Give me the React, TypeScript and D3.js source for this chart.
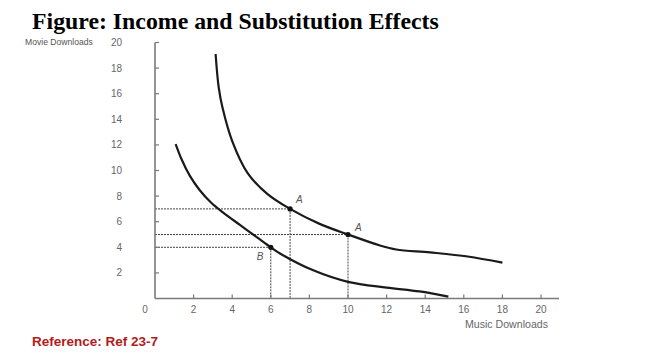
import React from "react";
import * as d3 from "d3";

const title = "Figure: Income and Substitution Effects";
const yAxisLabel = "Movie Downloads";
const xAxisLabel = "Music Downloads";
const reference = "Reference: Ref 23-7";

const xTicks = [2, 4, 6, 8, 10, 12, 14, 16, 18, 20];
const yTicks = [2, 4, 6, 8, 10, 12, 14, 16, 18, 20];

// Upper indifference curve (x = music, y = movies)
const upperCurve: [number, number][] = [
  [3.14, 19.1],
  [3.3, 16.5],
  [3.5, 14.9],
  [4.0, 12.3],
  [4.8, 9.8],
  [5.8, 8.2],
  [7.0, 7.0],
  [8.5, 5.85],
  [10.0, 5.0],
  [11.66, 4.14],
  [12.5, 3.83],
  [14.25, 3.6],
  [16.2, 3.28],
  [18.0, 2.8],
];

// Lower indifference curve
const lowerCurve: [number, number][] = [
  [1.07, 12.07],
  [1.4, 10.8],
  [1.8, 9.6],
  [2.3, 8.5],
  [2.9, 7.5],
  [3.5, 6.75],
  [4.4, 5.75],
  [5.27, 4.8],
  [6.0, 4.0],
  [6.5, 3.5],
  [8.2, 2.2],
  [10.0, 1.3],
  [12.0, 0.85],
  [13.7, 0.55],
  [15.2, 0.15],
];

const points = [
  { name: "A", x: 7, y: 7, dx: 6, dy: -6 },
  { name: "A", x: 10, y: 5, dx: 7, dy: -4 },
  { name: "B", x: 6, y: 4, dx: -14, dy: 13 },
];

export default function App() {
  const width = 650;
  const height = 364;
  const x = d3.scaleLinear().domain([0, 20]).range([155, 541]);
  const y = d3.scaleLinear().domain([0, 20]).range([298.5, 42.5]);
  const line = d3
    .line<[number, number]>()
    .x((d) => x(d[0]))
    .y((d) => y(d[1]))
    .curve(d3.curveCatmullRom.alpha(0.5));

  const axisColor = "#7a7a7a";
  const labelColor = "#666";
  const font = "Liberation Sans, Arial, sans-serif";

  return (
    <svg
      width={width}
      height={height}
      style={{ position: "absolute", left: 0, top: 0, background: "#fff" }}
    >
      <text
        x={32}
        y={29}
        fontFamily="Liberation Serif, Times New Roman, serif"
        fontWeight="bold"
        fontSize={23.8}
        fill="#000"
      >
        {title}
      </text>
      <text x={25} y={45} fontFamily={font} fontSize={8.6} fill="#555">
        {yAxisLabel}
      </text>

      {/* dashed guide lines */}
      {points.map((p, i) => (
        <g key={"g" + i}>
          <line
            x1={x(0)}
            x2={x(p.x)}
            y1={y(p.y)}
            y2={y(p.y)}
            stroke="#444"
            strokeWidth={1}
            strokeDasharray="2,1"
          />
          <line
            x1={x(p.x)}
            x2={x(p.x)}
            y1={y(p.y)}
            y2={y(0)}
            stroke="#444"
            strokeWidth={1}
            strokeDasharray="2,1"
          />
        </g>
      ))}

      {/* axes */}
      <line x1={x(0)} x2={x(0)} y1={y(20)} y2={y(0)} stroke={axisColor} strokeWidth={1.6} />
      <line x1={x(0)} x2={559} y1={y(0)} y2={y(0)} stroke={axisColor} strokeWidth={1.6} />
      {yTicks.map((t) => (
        <g key={"y" + t}>
          <line x1={x(0)} x2={x(0) + 4} y1={y(t)} y2={y(t)} stroke={axisColor} strokeWidth={1.2} />
          <text
            x={122}
            y={y(t) + 3.5}
            textAnchor="end"
            fontFamily={font}
            fontSize={10}
            fill={labelColor}
          >
            {t}
          </text>
        </g>
      ))}
      {xTicks.map((t) => (
        <g key={"x" + t}>
          <line x1={x(t)} x2={x(t)} y1={y(0)} y2={y(0) - 4} stroke={axisColor} strokeWidth={1.2} />
          <text
            x={x(t)}
            y={312.5}
            textAnchor="middle"
            fontFamily={font}
            fontSize={10}
            fill={labelColor}
          >
            {t}
          </text>
        </g>
      ))}
      <text x={145} y={312.5} textAnchor="middle" fontFamily={font} fontSize={10} fill={labelColor}>
        0
      </text>
      <text x={548} y={328} textAnchor="end" fontFamily={font} fontSize={10.6} fill={labelColor}>
        {xAxisLabel}
      </text>

      {/* curves */}
      <path d={line(upperCurve) || ""} fill="none" stroke="#1a1a1a" strokeWidth={2.2} />
      <path d={line(lowerCurve) || ""} fill="none" stroke="#1a1a1a" strokeWidth={2.2} />

      {points.map((p, i) => (
        <g key={"p" + i}>
          <circle cx={x(p.x)} cy={y(p.y)} r={2.6} fill="#111" />
          <text
            x={x(p.x) + p.dx}
            y={y(p.y) + p.dy}
            fontFamily={font}
            fontStyle="italic"
            fontSize={10}
            fill="#555"
          >
            {p.name}
          </text>
        </g>
      ))}

      <text x={32} y={346} fontFamily={font} fontWeight="bold" fontSize={13.5} fill="#b01c1c">
        {reference}
      </text>
    </svg>
  );
}
